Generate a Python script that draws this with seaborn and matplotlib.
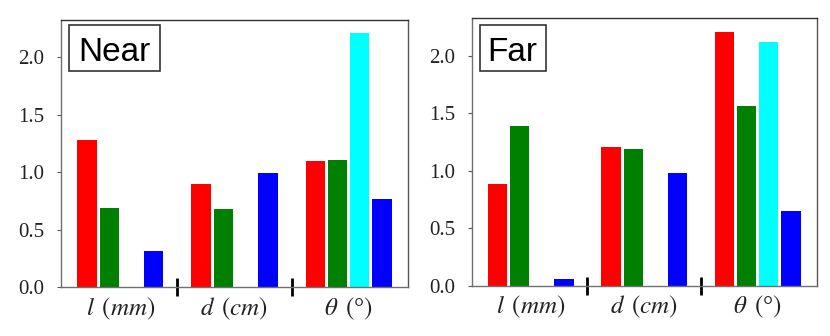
import numpy as np
import pandas as pd
import matplotlib
matplotlib.use("Agg")
import matplotlib.pyplot as plt
from matplotlib.patches import Rectangle
import seaborn as sns

# ---- data ----
groups = [r"$l\ \,(mm)$", r"$d\ \,(cm)$", r"$\theta\ \,($°$)$"]
series = ["red", "green", "cyan", "blue"]
near_red = [1.28, 0.90, 1.10]
near_green = [0.69, 0.68, 1.11]
near_cyan = [np.nan, np.nan, 2.21]
near_blue = [0.31, 0.99, 0.77]
far_red = [0.88, 1.21, 2.21]
far_green = [1.39, 1.19, 1.56]
far_cyan = [np.nan, np.nan, 2.12]
far_blue = [0.06, 0.98, 0.65]
panel_titles = ["Near", "Far"]
yticks = [0.0, 0.5, 1.0, 1.5, 2.0]

colors = {"red": "#ff0000", "green": "#008000", "cyan": "#00ffff", "blue": "#0000ff"}


def make_df(r, g, c, b):
    rows = []
    for vals, s in zip([r, g, c, b], series):
        for grp, v in zip(groups, vals):
            rows.append({"group": grp, "series": s, "value": v})
    return pd.DataFrame(rows)


sns.set_theme(style="white")
plt.rcParams["mathtext.fontset"] = "stix"
plt.rcParams["font.family"] = ["Liberation Serif", "DejaVu Serif"]

fig = plt.figure(figsize=(8.3, 3.36), dpi=100)
ax1 = fig.add_axes([0.0735, 0.1458, 0.4181, 0.7947])
ax2 = fig.add_axes([0.5683, 0.1497, 0.4157, 0.7958])

data = [
    make_df(near_red, near_green, near_cyan, near_blue),
    make_df(far_red, far_green, far_cyan, far_blue),
]
boxes = [
    (0.024, 0.809, 0.262, 0.171, 0.155, 0.8476),
    (0.024, 0.803, 0.1905, 0.171, 0.119, 0.841),
]

for ax, df, title, bx in zip([ax1, ax2], data, panel_titles, boxes):
    sns.barplot(data=df, x="group", y="value", hue="series", order=groups,
                hue_order=series, palette=colors, saturation=1, width=0.78,
                gap=0.13, linewidth=0, errorbar=None, legend=False, ax=ax)
    ax.set_xlim(-0.52, 2.52)
    ax.set_ylim(0, 2.325)
    ax.set_yticks(yticks)
    ax.set_yticklabels([f"{t:.1f}" for t in yticks])
    ax.set_xlabel("")
    ax.set_ylabel("")
    ax.set_xticks([0, 1, 2])
    ax.set_xticklabels(groups)
    ax.set_xticks([0.5, 1.5], minor=True)
    ax.tick_params(axis="x", which="major", length=0, labelsize=18, pad=6,
                   bottom=True)
    ax.tick_params(axis="x", which="minor", length=13, width=2, direction="inout",
                   color="black", bottom=True)
    ax.tick_params(axis="y", which="major", length=3, width=0.8, color="#555555",
                   labelsize=15, left=True, pad=9)
    for lab in ax.get_yticklabels():
        lab.set_color("#222222")
    for lab in ax.get_xticklabels():
        lab.set_color("#222222")
    for name, sp in ax.spines.items():
        sp.set_visible(True)
        sp.set_color("#707070")
        sp.set_linewidth(1.0)
    ax.spines["top"].set_color("#333333")
    ax.spines["right"].set_color("#555555")
    x0, y0, w, h, tx, ty = bx
    ax.add_patch(Rectangle((x0, y0), w, h, transform=ax.transAxes, fill=True,
                           facecolor="white", edgecolor="#333333", linewidth=1.2,
                           zorder=5))
    ax.text(tx, ty, title, transform=ax.transAxes, ha="center", va="baseline",
            fontsize=24, family=["Liberation Sans", "DejaVu Sans"], color="black",
            zorder=6)

fig.savefig("out.png", dpi=100)
